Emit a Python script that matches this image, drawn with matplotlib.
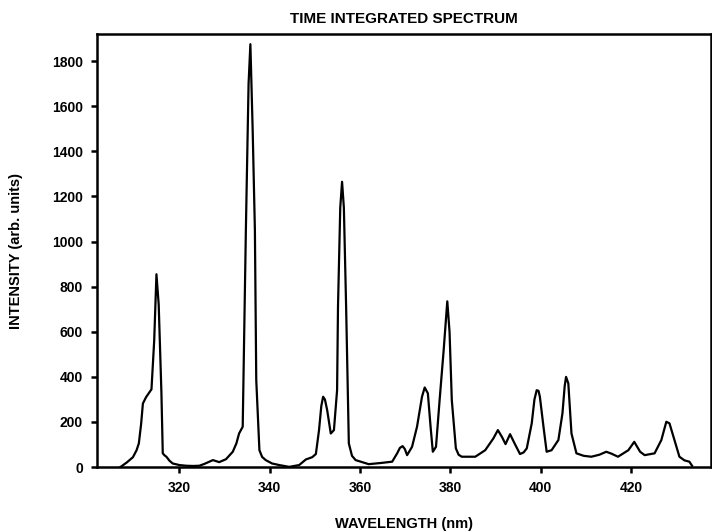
import numpy as np
import matplotlib
matplotlib.use('Agg')
import matplotlib.pyplot as plt

plt.rcParams['font.family'] = ['Liberation Sans', 'DejaVu Sans']

# spectrum: wavelength (nm), intensity (arb. units)
wavelength = [306.9, 308.3, 309.7, 310.5, 311.0, 311.5, 311.9, 312.6, 313.4, 313.8, 314.4, 314.9,
              315.4, 316.0, 316.3, 316.7, 317.1, 317.8, 318.5, 320.0,
              321.5, 323.0, 324.4, 325.5, 326.6, 327.4, 328.8, 330.3, 331.8, 332.6, 333.2, 334.0,
              334.7, 335.3, 335.7, 336.2, 336.7, 337.0, 337.7, 338.3, 339.1, 340.5, 342.1, 344.3,
              346.5, 348.0, 349.4, 350.2, 350.9, 351.4, 351.8, 352.2, 352.7, 353.5, 354.2, 354.9,
              355.1, 355.6, 356.0, 356.4, 356.9, 357.5, 358.2, 359.0, 361.9, 364.5, 367.1, 368.2,
              368.8, 369.4, 369.9, 370.4, 371.5, 372.6, 373.7, 374.3, 375.0, 375.6, 376.1, 376.8,
              377.6, 378.5, 379.3, 379.8, 380.3, 381.2, 381.8, 382.5, 385.5, 387.7, 389.5, 390.5,
              391.4, 392.2, 393.2, 394.2, 395.4, 396.2, 396.9, 398.0, 398.6, 399.1, 399.5, 399.8,
              400.6, 401.3, 402.4, 403.9, 404.8, 405.3, 405.6, 406.1, 406.8, 407.9, 409.5, 411.2,
              413.0, 414.5, 415.6, 417.1, 419.4, 420.7, 422.0, 423.0, 425.2, 426.7, 427.8, 428.5,
              429.6, 430.7, 431.8, 432.9, 433.5]
intensity = [0, 20, 44, 75, 105, 190, 282, 310, 333, 345, 560, 855,
             720, 330, 61, 52, 46, 28, 16, 9,
             6, 5, 6, 14, 24, 31, 22, 35, 68, 105, 149, 179,
             1050, 1700, 1875, 1500, 1050, 386, 75, 45, 31, 16, 9, 1,
             9, 34, 44, 58, 164, 270, 312, 300, 253, 149, 164, 341,
             711, 1150, 1265, 1150, 711, 105, 50, 31, 13, 18, 24, 61,
             85, 93, 80, 53, 90, 179, 312, 353, 327, 179, 68, 90,
             297, 519, 735, 600, 297, 83, 55, 46, 46, 75, 127, 164,
             134, 102, 146, 105, 58, 65, 83, 194, 300, 341, 338, 312,
             179, 68, 75, 120, 238, 360, 400, 371, 149, 61, 50, 46,
             55, 68, 60, 46, 75, 112, 68, 53, 61, 120, 201, 194,
             120, 46, 30, 24, 6]

x_ticks = [320, 340, 360, 380, 400, 420]
y_ticks = [0, 200, 400, 600, 800, 1000, 1200, 1400, 1600, 1800]

fig = plt.figure(figsize=(7.12, 5.32), dpi=100)
ax = fig.add_axes([0.136, 0.122, 0.862, 0.814])
ax.plot(wavelength, intensity, color='black', linewidth=1.6)

ax.set_xlim(301.7, 437.6)
ax.set_ylim(0, 1920)
ax.set_xticks(x_ticks)
ax.set_yticks(y_ticks)
ax.tick_params(direction='out', length=4, width=1.8, labelsize=10, pad=6,
               top=False, right=False)
for lab in ax.get_xticklabels() + ax.get_yticklabels():
    lab.set_fontweight('bold')
for s in ax.spines.values():
    s.set_linewidth(1.8)

ax.set_title("TIME INTEGRATED SPECTRUM", fontsize=11, fontweight='bold', pad=8)
ax.set_xlabel("WAVELENGTH (nm)", fontsize=10.5, fontweight='bold', labelpad=16)
ax.set_ylabel("INTENSITY (arb. units)", fontsize=10.5, fontweight='bold', labelpad=21)

fig.savefig("out.png", dpi=100)
